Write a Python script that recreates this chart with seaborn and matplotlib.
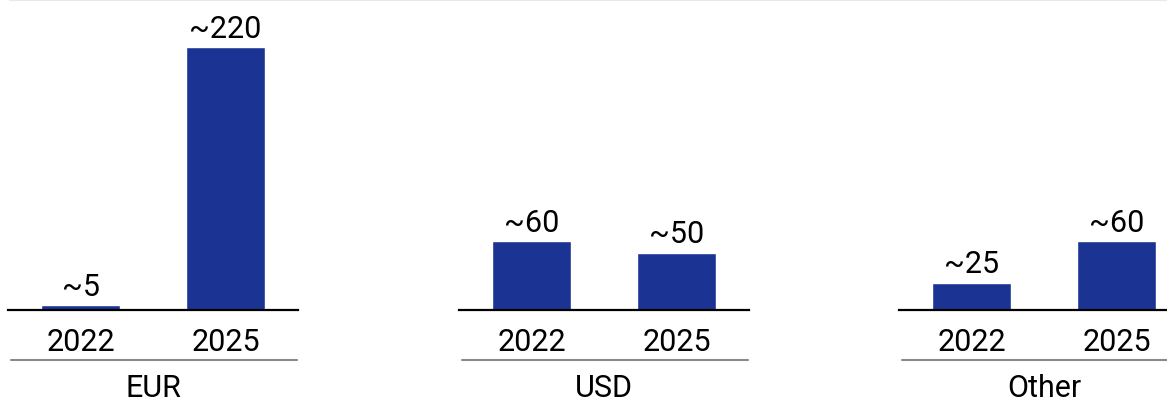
import pandas as pd
import matplotlib.pyplot as plt
import seaborn as sns
from matplotlib.lines import Line2D

# Data
currencies = ["EUR", "USD", "Other"]
years = ["2022", "2025"]
eur_values = [4, 220]
usd_values = [58, 48]
other_values = [23, 58]
eur_labels = ["~5", "~220"]
usd_labels = ["~60", "~50"]
other_labels = ["~25", "~60"]

values = {"EUR": eur_values, "USD": usd_values, "Other": other_values}
labels = {"EUR": eur_labels, "USD": usd_labels, "Other": other_labels}

sns.set_style("white")
plt.rcParams["font.family"] = ["Roboto", "DejaVu Sans"]
plt.rcParams["text.color"] = "black"
plt.rcParams["xtick.color"] = "black"

bar_color = "#1B3494"
W, H = 1167, 402
fig = plt.figure(figsize=(W / 100, H / 100), dpi=100)

# panel left edges in pixels
lefts = [8, 459, 899]
ax_w, ax_bottom, ax_h = 290, 311, 309

for cur, left in zip(currencies, lefts):
    ax = fig.add_axes([left / W, 1 - ax_bottom / H, ax_w / W, ax_h / H])
    df = pd.DataFrame({"Year": years, "Value": values[cur]})
    sns.barplot(data=df, x="Year", y="Value", color=bar_color, width=0.55,
                saturation=1, ax=ax)
    ax.bar_label(ax.containers[0], labels=labels[cur], padding=3, fontsize=22,
                 color="black")
    ax.set_xlim(-0.5, 1.5)
    ax.set_ylim(0, ax_h / 1.195)
    ax.set_xlabel("")
    ax.set_ylabel("")
    ax.set_yticks([])
    ax.tick_params(axis="x", length=0, pad=12, labelsize=22, labelcolor="black")
    for s in ["top", "left", "right"]:
        ax.spines[s].set_visible(False)
    ax.spines["bottom"].set_linewidth(1.6)
    ax.spines["bottom"].set_color("black")
    # grey separator line under years
    y_sep = -(361 - ax_bottom) / ax_h
    ax.plot([0.01, 0.995], [y_sep, y_sep], transform=ax.transAxes,
            color="#8a8a8a", linewidth=1.5, clip_on=False)
    # currency label
    ax.text(0.5, -(397 - ax_bottom) / ax_h, cur, transform=ax.transAxes,
            ha="center", va="baseline", fontsize=22, color="black")

# faint line across the top
fig.add_artist(Line2D([10 / W, 1], [1 - 0.8 / H, 1 - 0.8 / H],
                      color="#e4e8ef", linewidth=1.5))

fig.savefig("out.png", dpi=100)
